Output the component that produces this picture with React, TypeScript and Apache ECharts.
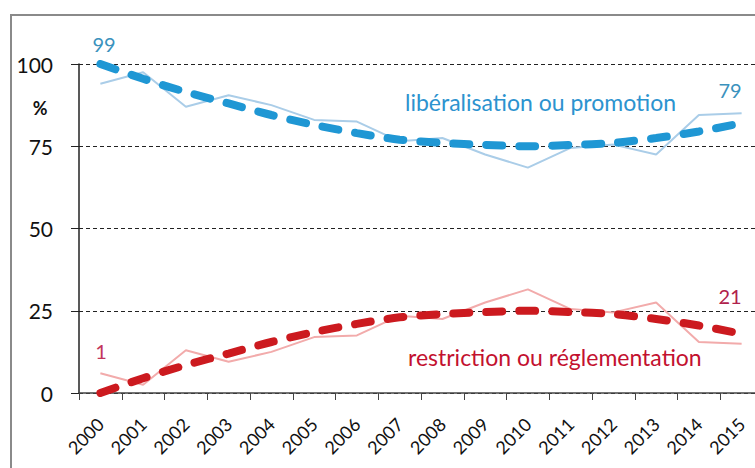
import React, { useEffect, useRef } from "react";
import * as echarts from "echarts";

const years = ["2000","2001","2002","2003","2004","2005","2006","2007","2008","2009","2010","2011","2012","2013","2014","2015"];
const libActual = [94, 97.5, 87, 90.5, 87.5, 83, 82.5, 76.5, 77.5, 72.5, 68.5, 74.5, 75.5, 72.5, 84.5, 85];
const resActual = [6, 2.5, 13, 9.5, 12.5, 17, 17.5, 23.5, 22.5, 27.5, 31.5, 25.5, 24.5, 27.5, 15.5, 15];
const libTrend = [100, 95.5, 91.5, 88, 84.5, 81.5, 79, 77, 76, 75.4, 75, 75.4, 76, 77.5, 79.5, 82];
const resTrend = [0, 4.5, 8.5, 12, 15.5, 18.5, 21, 23, 24, 24.6, 25, 24.6, 24, 22.5, 20.5, 18];
const yTicks = [0, 25, 50, 75, 100];

const FONT = "Lato, 'Open Sans', sans-serif";

export default function App() {
  const ref = useRef<HTMLDivElement>(null);
  useEffect(() => {
    if (!ref.current) return;
    const chart = echarts.init(ref.current, null, { renderer: "svg" });
    chart.setOption({
      animation: false,
      backgroundColor: "#ffffff",
      grid: { left: 79, top: 64, width: 684, bottom: 75, containLabel: false, outerBoundsMode: "none" },
      xAxis: {
        type: "category",
        data: years,
        boundaryGap: true,
        axisLine: { lineStyle: { color: "#444", width: 1.5 } },
        axisTick: { show: true, length: 7, lineStyle: { color: "#444" } },
        axisLabel: { rotate: 45, margin: 28, color: "#111", fontSize: 18, fontFamily: FONT },
        splitLine: { show: false },
      },
      yAxis: {
        type: "value",
        min: yTicks[0],
        max: yTicks[yTicks.length - 1],
        interval: 25,
        axisLine: { show: true, lineStyle: { color: "#222", width: 1.5 } },
        axisTick: { show: true, length: 8, lineStyle: { color: "#222" } },
        axisLabel: { margin: 26, color: "#111", fontSize: 21, fontFamily: FONT },
        splitLine: { show: true, lineStyle: { color: "#222", type: [4, 3], width: 1 } },
      },
      series: [
        {
          name: "lib actual", type: "line", data: libActual, symbol: "none",
          lineStyle: { color: "#aacde8", width: 2 }, z: 2,
        },
        {
          name: "res actual", type: "line", data: resActual, symbol: "none",
          lineStyle: { color: "#f2abab", width: 2 }, z: 2,
        },
        {
          name: "lib trend", type: "line", data: libTrend, symbol: "none", smooth: 0.3,
          lineStyle: { color: "#1f97d4", width: 8, type: [16, 17], cap: "round" }, z: 3,
        },
        {
          name: "res trend", type: "line", data: resTrend, symbol: "none", smooth: 0.3,
          lineStyle: { color: "#cc1a1f", width: 8, type: [16, 17], cap: "round" }, z: 3,
        },
      ],
      graphic: [
        { type: "rect", shape: { x: 11, y: 15, width: 900, height: 600 }, style: { fill: "none", stroke: "#8a8a8a", lineWidth: 2 }, z: -1, silent: true },
        { type: "text", x: 40, y: 108, style: { text: "%", fontSize: 18, fontWeight: "bold", fontFamily: FONT, fill: "#111", textAlign: "center", textVerticalAlign: "middle" } },
        { type: "text", x: 104, y: 44, style: { text: "99", fontSize: 20, fontFamily: FONT, fill: "#3b92bd", textAlign: "center", textVerticalAlign: "middle" } },
        { type: "text", x: 730, y: 90, style: { text: "79", fontSize: 20, fontFamily: FONT, fill: "#3b92bd", textAlign: "center", textVerticalAlign: "middle" } },
        { type: "text", x: 101, y: 351, style: { text: "1", fontSize: 20, fontFamily: FONT, fill: "#c2355c", textAlign: "center", textVerticalAlign: "middle" } },
        { type: "text", x: 730, y: 296, style: { text: "21", fontSize: 20, fontFamily: FONT, fill: "#b0224c", textAlign: "center", textVerticalAlign: "middle" } },
        { type: "text", x: 405, y: 102, style: { text: "libéralisation ou promotion", fontSize: 23, fontFamily: FONT, fill: "#2c93cf", textAlign: "left", textVerticalAlign: "middle" } },
        { type: "text", x: 408, y: 357, style: { text: "restriction ou réglementation", fontSize: 23, fontFamily: FONT, fill: "#c3112f", textAlign: "left", textVerticalAlign: "middle" } },
      ],
    });
    return () => chart.dispose();
  }, []);
  return <div ref={ref} style={{ position: "fixed", left: 0, top: 0, width: 755, height: 468 }} />;
}
